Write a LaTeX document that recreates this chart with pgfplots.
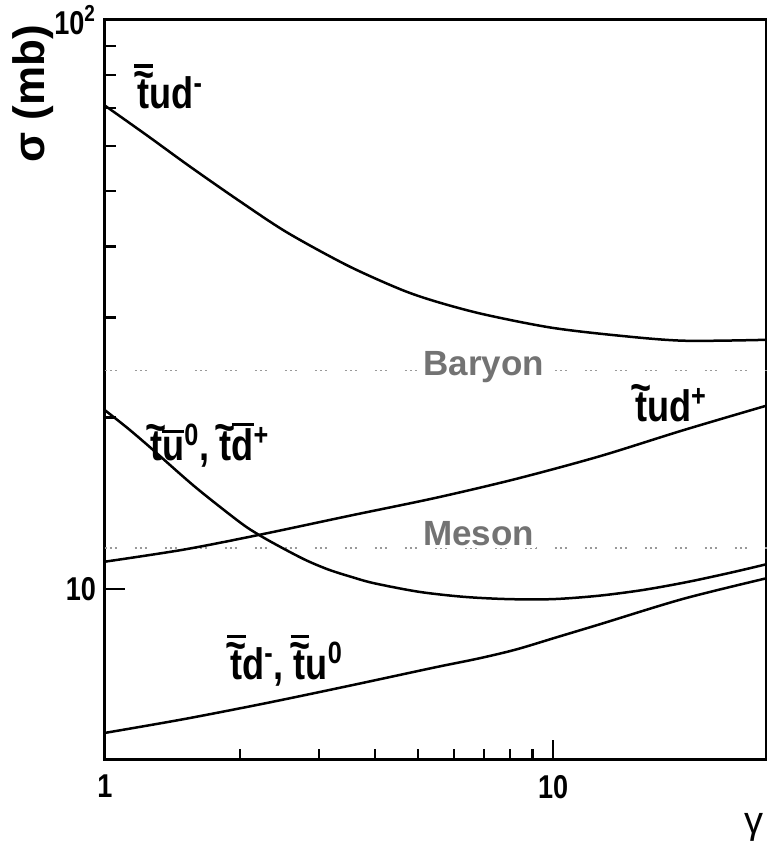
\documentclass[border=0pt]{standalone}
\usepackage{fontspec}
\setmainfont{Liberation Sans}
\newfontfamily\cond[FakeStretch=0.82]{Liberation Sans}
\usepackage{pgfplots}
\pgfplotsset{compat=1.18}

% put a mark (#2) raised by #1 centred over the text #3
\newcommand\overmark[3]{\leavevmode\setbox0=\hbox{#3}\rlap{\hbox to \wd0{\hss\raisebox{#1}{#2}\hss}}\box0}
\newcommand\tld[1]{\overmark{0.42em}{\textasciitilde}{#1}}
\newcommand\btld[1]{\overmark{0.42em}{\textasciitilde}{\overmark{0.93em}{\rule{0.42em}{0.08em}}{#1}}}
\newcommand\brl[1]{\overmark{0.62em}{\rule{0.5em}{0.08em}}{#1}}
\newcommand\brh[1]{\overmark{0.78em}{\rule{0.5em}{0.08em}}{#1}}

\begin{document}
\begin{tikzpicture}
\begin{axis}[
  name=ax,
  xmode=log, ymode=log,
  scale only axis, width=331pt, height=370pt,
  xmin=1, xmax=30, ymin=5, ymax=100,
  axis line style={line width=1.5pt},
  tick align=inside, tick pos=left,
  xtick={1,10}, xticklabels={1,10},
  ytick={10,100}, yticklabels={10,\raisebox{-5pt}{10\textsuperscript{2}}},
  major tick length=10pt, minor tick length=5.5pt,
  every tick/.style={line width=1.2pt, black},
  ticklabel style={font=\cond\bfseries\fontsize{16.5}{18}\selectfont},
  xticklabel style={yshift=-4pt},
  yticklabel style={xshift=-1pt},
]
% hadron class separators
\addplot[black!40, line width=0.7pt, dash pattern=on 1pt off 1.5pt on 1pt off 1.5pt on 1pt off 9pt] coordinates {(1,24.2) (30,24.2)};
\addplot[black!40, line width=0.7pt, dash pattern=on 1pt off 1.5pt on 1pt off 1.5pt on 1pt off 9pt] coordinates {(1,11.8) (30,11.8)};

% cross sections
\addplot[black, line width=1.25pt, smooth] coordinates {
  (1,70.7) (1.24,62.7) (1.55,55.2) (2.0,48.0) (2.55,42.3) (3.48,37.0)
  (4.57,33.6) (5.47,32.0) (6.97,30.4) (9.85,28.8) (13.8,27.9) (19.5,27.3) (30,27.4)};
\addplot[black, line width=1.25pt, smooth] coordinates {
  (1,11.16) (1.5,11.72) (2.22,12.45) (3.53,13.45) (5.47,14.45)
  (8.26,15.6) (12.7,17.1) (19.5,19.0) (30,21.0)};
\addplot[black, line width=1.25pt, smooth] coordinates {
  (1,20.6) (1.12,19.2) (1.26,17.74) (1.585,15.13) (2.0,13.09) (2.22,12.4)
  (2.51,11.75) (2.82,11.21) (3.16,10.80) (3.55,10.49) (3.98,10.23)
  (5.01,9.88) (6.31,9.68) (7.94,9.59) (10,9.59) (12.6,9.72) (15.85,9.95)
  (19.95,10.28) (25.1,10.69) (30,11.05)};
\addplot[black, line width=1.25pt, smooth] coordinates {
  (1,5.58) (1.5,5.90) (2.3,6.30) (3.53,6.76) (5.47,7.28) (6.8,7.54)
  (8.26,7.82) (10.3,8.24) (12.7,8.66) (19.5,9.60) (30,10.44)};

\begin{scope}[every node/.style={font=\cond\bfseries\fontsize{22}{24}\selectfont, inner sep=0pt, anchor=base west}]
\node at (axis cs:1.18,69.9) {\btld{t}ud\textsuperscript{-}};
\node at (axis cs:1.26,16.8) {\tld{t}\brl{u}\textsuperscript{0}, \tld{t}\brh{d}\textsuperscript{+}};
\node at (axis cs:15.2,19.7) {\tld{t}ud\textsuperscript{+}};
\node at (axis cs:1.90,6.94) {\btld{t}d\textsuperscript{-}, \btld{t}u\textsuperscript{0}};
\end{scope}
\begin{scope}[every node/.style={font=\bfseries\fontsize{17.5}{20}\selectfont, text=black!55, fill=white, inner sep=1pt, anchor=base west}]
\node at (axis cs:5.07,23.7) {Baryon};
\node at (axis cs:5.07,11.9) {Meson};
\end{scope}
\end{axis}
\node[rotate=90, font=\bfseries\fontsize{22}{24}\selectfont] at ([xshift=-36pt,yshift=-37pt]ax.north west) {σ (mb)};
\node[font=\fontsize{19}{21}\selectfont] at ([xshift=-6.5pt,yshift=-33.5pt]ax.south east) {γ};
\pgfresetboundingbox
\path ([xshift=-52.5pt,yshift=-44.5pt]ax.south west) rectangle ([yshift=10pt]ax.north east);
\end{tikzpicture}
\end{document}
